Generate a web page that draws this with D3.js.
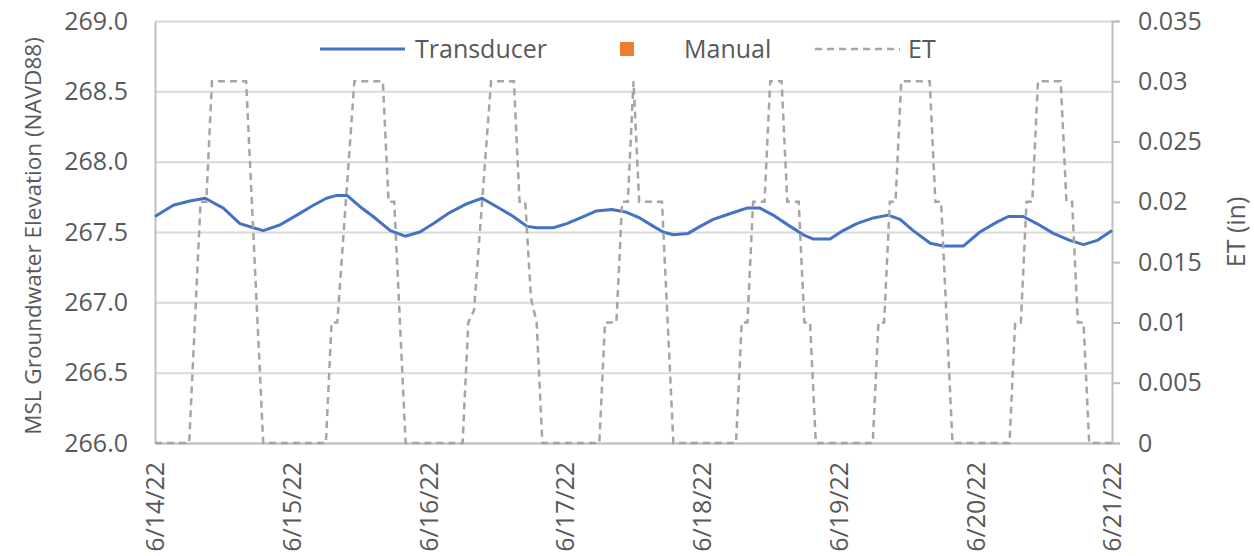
<!DOCTYPE html>
<html>
<head>
<meta charset="utf-8">
<script src="https://cdn.jsdelivr.net/npm/d3@7"></script>
<style>
  body { margin: 0; background: #fff; }
  svg text { font-family: "Open Sans", sans-serif; fill: #595959; }
</style>
</head>
<body>
<div id="chart"></div>
<script>
// series data, times are hours after 6/14/22 00:00
var tdHours = [0, 3.2, 6.1, 8.8, 12, 14.9, 17.3, 19, 21.9, 24.9, 27.8, 30.1, 31.9, 33.7, 36, 38.3, 41.3, 43.9, 46.5,
  48.9, 51.8, 54.7, 57.4, 60, 62.9, 65.3, 67, 69.9, 72.3, 75.2, 77.5, 80.2, 82.8, 85.1, 87.5, 89.2, 91, 93.6, 95.7,
  98, 100.9, 103.9, 106.2, 108.5, 111.5, 113.8, 115.6, 118.5, 120.8, 123.2, 126.1, 128.7, 130.8, 133.1, 136.1,
  138.4, 141.9, 144.8, 147.8, 149.8, 152.4, 154.8, 157.7, 160.6, 163, 165.4, 168];
var tdValues = [267.61, 267.69, 267.72, 267.74, 267.67, 267.56, 267.53, 267.51, 267.55, 267.62, 267.69, 267.74, 267.76,
  267.76, 267.68, 267.61, 267.51, 267.47, 267.50, 267.56, 267.64, 267.70, 267.74, 267.68, 267.61, 267.54, 267.53,
  267.53, 267.56, 267.61, 267.65, 267.66, 267.64, 267.60, 267.54, 267.50, 267.48, 267.49, 267.54, 267.59, 267.63,
  267.67, 267.67, 267.62, 267.54, 267.48, 267.45, 267.45, 267.51, 267.56, 267.60, 267.62, 267.59, 267.51, 267.42,
  267.40, 267.40, 267.50, 267.57, 267.61, 267.61, 267.56, 267.49, 267.44, 267.41, 267.44, 267.51];

var etHours = [0, 6, 7, 8, 9, 10, 16, 17, 18, 19,
  30, 31, 32, 35, 40, 41, 42, 43, 44,
  54, 55, 56, 59, 63, 64, 65, 66, 67, 68,
  78, 79, 81, 82, 83, 84, 85, 89, 90, 91,
  102, 103, 104, 105, 107, 108, 110, 111, 113, 114, 115, 116,
  126, 127, 128, 129, 130, 131, 136, 137, 138, 139, 140,
  150, 151, 152, 153, 154, 155, 159, 160, 161, 162, 163, 164, 168];
var etValues = [0, 0, 0.01, 0.02, 0.02, 0.03, 0.03, 0.02, 0.01, 0,
  0, 0.01, 0.01, 0.03, 0.03, 0.02, 0.02, 0.01, 0,
  0, 0.01, 0.011, 0.03, 0.03, 0.02, 0.02, 0.012, 0.01, 0,
  0, 0.01, 0.01, 0.02, 0.02, 0.03, 0.02, 0.02, 0.01, 0,
  0, 0.01, 0.01, 0.02, 0.02, 0.03, 0.03, 0.02, 0.02, 0.01, 0.01, 0,
  0, 0.01, 0.01, 0.02, 0.02, 0.03, 0.03, 0.02, 0.02, 0.01, 0,
  0, 0.01, 0.01, 0.02, 0.02, 0.03, 0.03, 0.02, 0.02, 0.01, 0.01, 0, 0];

var leftTicks = [266, 266.5, 267, 267.5, 268, 268.5, 269];
var etTicks = [0, 0.005, 0.01, 0.015, 0.02, 0.025, 0.03, 0.035];
var dayTicks = ["2022-06-14", "2022-06-15", "2022-06-16", "2022-06-17", "2022-06-18", "2022-06-19", "2022-06-20", "2022-06-21"];
var seriesNames = ["Transducer", "Manual", "ET"];

var start = new Date(2022, 5, 14);
function toDate(h) { return new Date(start.getTime() + h * 3600 * 1000); }
var parseDay = d3.timeParse("%Y-%m-%d");

var W = 1254, H = 556;
var plotL = 155, plotR = 1112, plotT = 21, plotB = 443;
var fs = "25px";

var x = d3.scaleTime()
    .domain([start, toDate(168)])
    .range([plotL, plotR]);
var y = d3.scaleLinear().domain([266, 269]).range([plotB, plotT]);
var y2 = d3.scaleLinear().domain([0, 0.035]).range([plotB, plotT]);

var svg = d3.select("#chart").append("svg")
    .attr("width", W)
    .attr("height", H);

// gridlines
svg.append("g")
    .attr("transform", "translate(" + plotL + ",0)")
    .call(d3.axisLeft(y).tickValues(leftTicks).tickSize(-(plotR - plotL)).tickFormat(""))
    .call(function(g) { g.select(".domain").remove(); })
    .selectAll("line").attr("stroke", "#d9d9d9").attr("stroke-width", 2);

// left axis
svg.append("g")
    .attr("transform", "translate(" + plotL + ",0)")
    .call(d3.axisLeft(y).tickValues(leftTicks).tickSize(0).tickPadding(27).tickFormat(d3.format(".1f")))
    .call(function(g) {
      g.select(".domain").attr("stroke", "#bfbfbf").attr("stroke-width", 2);
      g.selectAll("text").style("font-size", fs).attr("fill", "#595959");
    });

// right axis
svg.append("g")
    .attr("transform", "translate(" + plotR + ",0)")
    .call(d3.axisRight(y2).tickValues(etTicks).tickSize(8).tickPadding(18).tickFormat(function(d) { return String(d); }))
    .call(function(g) {
      g.select(".domain").attr("stroke", "#bfbfbf").attr("stroke-width", 2);
      g.selectAll("line").attr("stroke", "#bfbfbf").attr("stroke-width", 2);
      g.selectAll("text").style("font-size", fs).attr("fill", "#595959");
    });

// bottom axis
svg.append("g")
    .attr("transform", "translate(0," + plotB + ")")
    .call(d3.axisBottom(x).tickValues(dayTicks.map(parseDay)).tickSize(0).tickFormat(d3.timeFormat("%-m/%-d/%y")))
    .call(function(g) {
      g.select(".domain").attr("stroke", "#bfbfbf").attr("stroke-width", 2);
      g.selectAll("text")
        .attr("transform", "rotate(-90)")
        .attr("x", -19)
        .attr("y", 0)
        .attr("dy", "0.35em")
        .style("text-anchor", "end")
        .style("font-size", fs)
        .attr("fill", "#595959");
    });

// axis titles
svg.append("text")
    .attr("transform", "translate(33," + ((plotT + plotB) / 2 + 4) + ") rotate(-90)")
    .attr("text-anchor", "middle")
    .attr("dy", "0.35em")
    .style("font-size", "22.5px")
    .text("MSL Groundwater Elevation (NAVD88)");

svg.append("text")
    .attr("transform", "translate(1236," + ((plotT + plotB) / 2) + ") rotate(-90)")
    .attr("text-anchor", "middle")
    .attr("dy", "0.35em")
    .style("font-size", fs)
    .text("ET (in)");

// transducer line
var tdLine = d3.line()
    .x(function(d, i) { return x(toDate(tdHours[i])); })
    .y(function(d) { return y(d); });

svg.append("path")
    .datum(tdValues)
    .attr("fill", "none")
    .attr("stroke", "#4472c4")
    .attr("stroke-width", 3)
    .attr("stroke-linejoin", "round")
    .attr("d", tdLine);

// ET line on secondary axis
var etLine = d3.line()
    .x(function(d, i) { return x(toDate(etHours[i])); })
    .y(function(d) { return y2(d); });

svg.append("path")
    .datum(etValues)
    .attr("fill", "none")
    .attr("stroke", "#a5a5a5")
    .attr("stroke-width", 2.5)
    .attr("stroke-dasharray", "7,5")
    .attr("d", etLine);

// legend
var lg = svg.append("g").attr("transform", "translate(0,49)");
lg.append("line").attr("x1", 320).attr("x2", 405).attr("y1", 0).attr("y2", 0)
    .attr("stroke", "#4472c4").attr("stroke-width", 3);
lg.append("text").attr("x", 415).attr("dy", "0.35em").style("font-size", fs).text(seriesNames[0]);
lg.append("rect").attr("x", 620).attr("y", -7).attr("width", 14).attr("height", 14).attr("fill", "#ed7d31");
lg.append("text").attr("x", 684).attr("dy", "0.35em").style("font-size", fs).text(seriesNames[1]);
lg.append("line").attr("x1", 815).attr("x2", 900).attr("y1", 0).attr("y2", 0)
    .attr("stroke", "#a5a5a5").attr("stroke-width", 2.5).attr("stroke-dasharray", "7,5");
lg.append("text").attr("x", 908).attr("dy", "0.35em").style("font-size", fs).text(seriesNames[2]);
</script>
</body>
</html>
